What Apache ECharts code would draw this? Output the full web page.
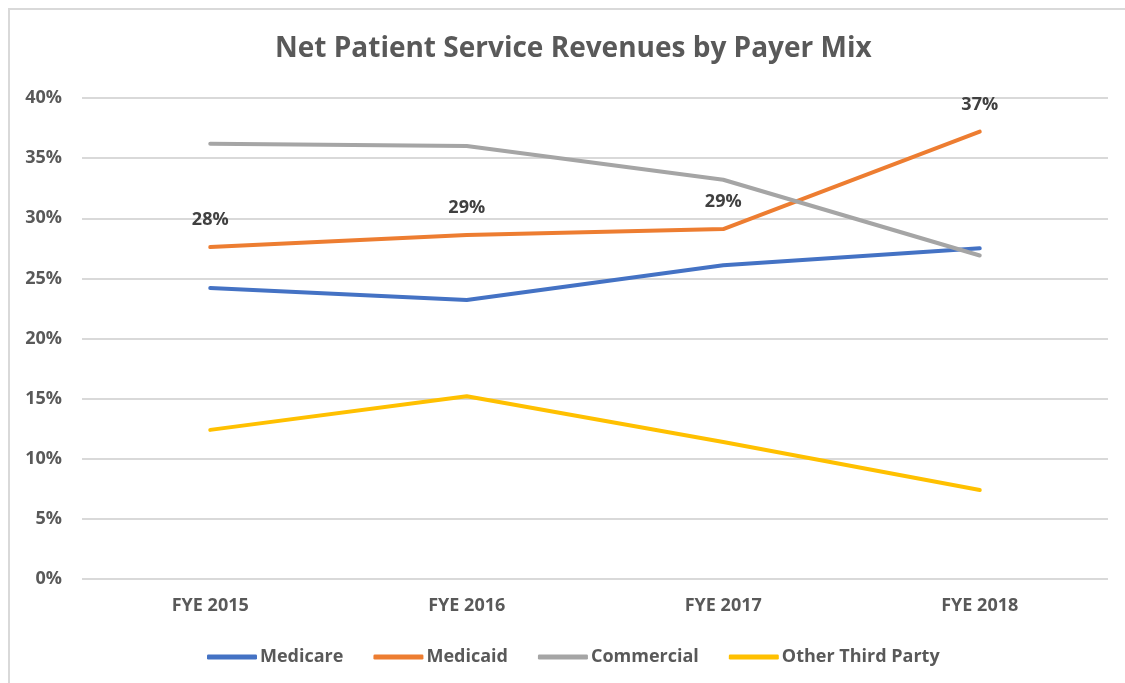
<!DOCTYPE html>
<html lang="en">
  <head>
    <meta charset="UTF-8" />
    <title>Net Patient Service Revenues by Payer Mix</title>
    <script src="https://cdn.jsdelivr.net/npm/echarts@6/dist/echarts.min.js"></script>
    <style>
      html, body {
        margin: 0;
        padding: 0;
        overflow: hidden;
        background: #fff;
      }
      #frame {
        position: absolute;
        left: 8px;
        top: 8px;
        width: 1300px;
        height: 900px;
        border: 2px solid #d9d9d9;
      }
      #main {
        position: absolute;
        left: 0;
        top: 0;
        width: 1125px;
        height: 683px;
      }
    </style>
  </head>
  <body>
    <div id="frame"></div>
    <div id="main"></div>
    <script>
      // data (percent)
      var years = ["FYE 2015", "FYE 2016", "FYE 2017", "FYE 2018"];
      var medicare = [24.2, 23.2, 26.1, 27.5];
      var medicaid = [27.6, 28.6, 29.1, 37.2];
      var commercial = [36.2, 36.0, 33.2, 26.9];
      var otherThird = [12.4, 15.2, 11.4, 7.4];
      var medicaidLabels = ["28%", "29%", "29%", "37%"];

      var font = "'Open Sans', 'Noto Sans', sans-serif";
      var txt = "#595959";

      var myChart = echarts.init(document.getElementById("main"));

      function line(name, data, color) {
        return {
          name: name,
          type: "line",
          data: data,
          symbol: "circle",
          symbolSize: 0.1,
          showSymbol: true,
          smooth: false,
          lineStyle: { width: 4, color: color, cap: "round", join: "round" },
          itemStyle: { color: color },
          emphasis: { disabled: true },
        };
      }

      var series = [
        line("Medicare", medicare, "#4472C4"),
        line("Medicaid", medicaid, "#ED7D31"),
        line("Commercial", commercial, "#A5A5A5"),
        line("Other Third Party", otherThird, "#FFC000"),
      ];
      // labels only on Medicaid
      series[1].label = {
        show: true,
        position: "top",
        distance: 18,
        color: "#404040",
        fontFamily: font,
        fontWeight: "bold",
        fontSize: 18,
        formatter: function (p) {
          return medicaidLabels[p.dataIndex];
        },
      };

      var option = {
        animation: false,
        title: {
          text: "Net Patient Service Revenues by Payer Mix",
          left: 270,
          top: 30,
          textStyle: {
            color: txt,
            fontFamily: font,
            fontWeight: "bold",
            fontSize: 28,
          },
        },
        legend: {
          bottom: 12,
          left: 202,
          itemWidth: 50,
          itemHeight: 5,
          itemGap: 30,
          icon: "roundRect",
          textStyle: {
            color: txt,
            fontFamily: font,
            fontWeight: "bold",
            fontSize: 18,
            padding: [0, 0, 0, -2],
          },
          data: ["Medicare", "Medicaid", "Commercial", "Other Third Party"],
        },
        grid: {
          left: 82,
          right: 17,
          top: 98,
          bottom: 104,
          containLabel: false,
        },
        xAxis: {
          type: "category",
          data: years,
          boundaryGap: true,
          axisLine: { show: false },
          axisTick: { show: false },
          axisLabel: {
            margin: 18,
            color: txt,
            fontFamily: font,
            fontWeight: "bold",
            fontSize: 18,
          },
        },
        yAxis: {
          type: "value",
          min: 0,
          max: 40,
          interval: 5,
          axisLine: { show: false },
          axisTick: { show: false },
          splitLine: { lineStyle: { color: "#d9d9d9", width: 2 } },
          axisLabel: {
            margin: 20,
            color: txt,
            fontFamily: font,
            fontWeight: "bold",
            fontSize: 18,
            formatter: "{value}%",
          },
        },
        series: series,
      };

      myChart.setOption(option);
    </script>
  </body>
</html>
